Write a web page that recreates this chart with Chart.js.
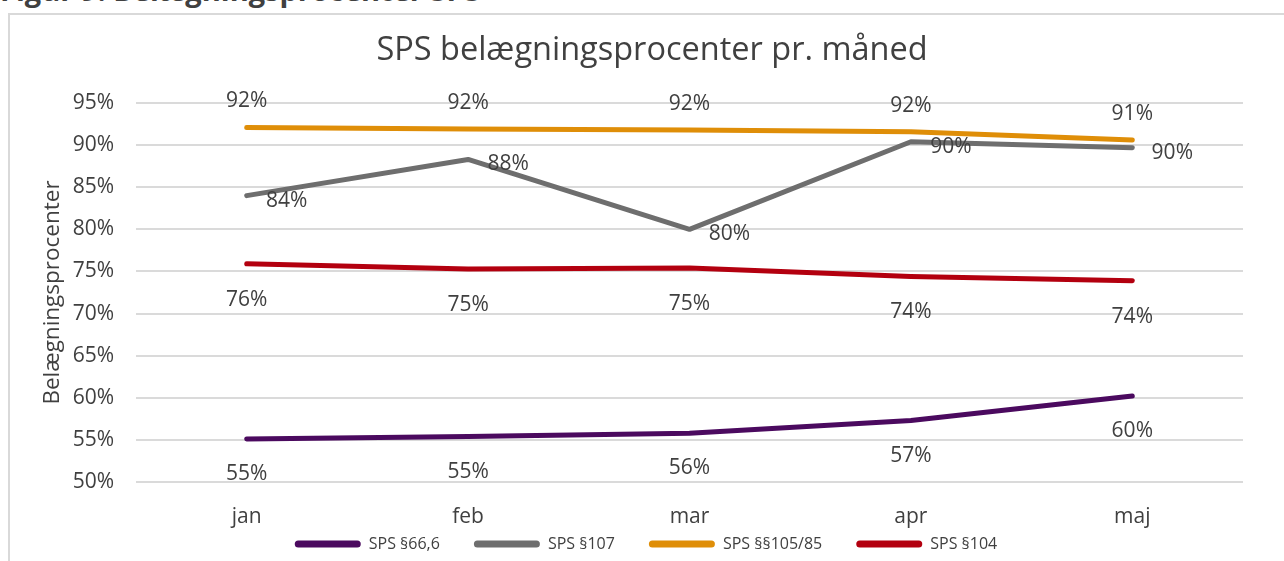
<!DOCTYPE html>
<html>
<head>
<meta charset="utf-8">
<script src="https://cdn.jsdelivr.net/npm/chart.js@4/dist/chart.umd.min.js"></script>
<style>
  html, body { margin: 0; padding: 0; background: #fff; width: 1284px; height: 561px; overflow: hidden; }
  #fig { position: absolute; left: 0; top: -30px; font-family: "Open Sans", sans-serif; font-weight: bold; font-size: 29px; line-height: 40px; color: #404040; white-space: nowrap; }
  #frame { position: absolute; left: 8px; top: 13px; width: 1300px; height: 560px; border: 2px solid #d9d9d9; box-sizing: border-box; }
  #wrap { position: absolute; left: 10px; top: 15px; width: 1284px; height: 546px; }
</style>
</head>
<body>
<div id="fig">Figur 9: Belægningsprocenter SPS</div>
<div id="frame"></div>
<div id="wrap"><canvas id="c"></canvas></div>
<script>
const categories = ["jan", "feb", "mar", "apr", "maj"];
const seriesNames = ["SPS §66,6", "SPS §107", "SPS §§105/85", "SPS §104"];
const sps666 = [55.1, 55.4, 55.8, 57.3, 60.2];
const sps107 = [84.0, 88.3, 80.0, 90.4, 89.7];
const sps10585 = [92.1, 91.9, 91.8, 91.6, 90.6];
const sps104 = [75.9, 75.3, 75.4, 74.4, 73.9];
const yTicks = [50, 55, 60, 65, 70, 75, 80, 85, 90, 95];

const colors = ["#4B0A5F", "#6E6E6E", "#DF8E08", "#B3000F"];
const labelOffsets = [[0, 35], [40, 5], [0, -26], [0, 36]];

const textColor = "#404040";
const baseFont = "'Open Sans', sans-serif";

const LEGEND_PAD = 34;
const LEGEND_FONT = 16;

const labelPlugin = {
  id: "pointLabels",
  afterDatasetsDraw(chart) {
    const ctx = chart.ctx;
    ctx.save();
    ctx.font = "21px " + baseFont;
    ctx.fillStyle = textColor;
    ctx.textAlign = "center";
    ctx.textBaseline = "middle";
    chart.data.datasets.forEach((ds, i) => {
      const meta = chart.getDatasetMeta(i);
      meta.data.forEach((pt, j) => {
        const off = labelOffsets[i];
        ctx.fillText(Math.round(ds.data[j]) + "%", pt.x + off[0], pt.y + off[1]);
      });
    });
    ctx.restore();
  }
};

// Compact legend: keep wide horizontal spacing but small reserved height
const legendTweak = {
  id: "legendTweak",
  beforeLayout(chart) {
    const lg = chart.legend;
    if (!lg || lg._compactPatched) return;
    const origFit = lg.fit.bind(lg);
    lg.fit = function () { origFit(); this.height = 31; };
    lg._compactPatched = true;
  },
  afterLayout(chart) {
    const lg = chart.legend;
    if (lg) {
      const targetCenter = 529;
      const top = targetCenter - LEGEND_PAD - LEGEND_FONT / 2;
      lg.top = top;
      lg.bottom = chart.height;
      lg.height = lg.bottom - lg.top;
      lg.left -= 6; lg.right -= 6;
    }
    const xs = chart.scales.x;
    if (xs) { xs.bottom = chart.height; xs.height = xs.bottom - xs.top; }
  }
};

const dataSets = [sps666, sps107, sps10585, sps104].map((arr, i) => ({
  label: seriesNames[i],
  data: arr,
  borderColor: colors[i],
  backgroundColor: colors[i],
  borderWidth: 5,
  borderCapStyle: "round",
  borderJoinStyle: "round",
  pointRadius: 0,
  pointHoverRadius: 0,
  tension: 0,
  fill: false,
  yAxisID: "y"
}));

new Chart(document.getElementById("c"), {
  type: "line",
  data: { labels: categories, datasets: dataSets },
  options: {
    responsive: true,
    maintainAspectRatio: false,
    animation: false,
    events: [],
    layout: { padding: { left: 0, right: 0, top: 0, bottom: 0 } },
    plugins: {
      title: {
        display: true,
        text: "SPS belægningsprocenter pr. måned",
        color: textColor,
        font: { family: baseFont, size: 32.5, weight: "normal" },
        padding: { top: 16, bottom: 33 }
      },
      legend: {
        display: true,
        position: "bottom",
        labels: {
          color: textColor,
          font: { family: baseFont, size: LEGEND_FONT },
          boxWidth: 66,
          boxHeight: 7,
          padding: LEGEND_PAD,
          generateLabels(chart) {
            return chart.data.datasets.map((ds, i) => ({
              text: ds.label,
              fillStyle: ds.borderColor,
              strokeStyle: ds.borderColor,
              lineWidth: 0,
              borderRadius: 3.5,
              fontColor: textColor,
              datasetIndex: i,
              hidden: false
            }));
          }
        }
      },
      tooltip: { enabled: false }
    },
    scales: {
      x: {
        offset: true,
        afterFit(scale) { scale.height = 48; },
        grid: { display: false },
        border: { display: false },
        ticks: { color: textColor, font: { family: baseFont, size: 21 }, padding: 14 }
      },
      y: {
        min: 50,
        max: 95,
        afterFit(scale) { scale.width = 126; },
        afterBuildTicks(scale) { scale.ticks = yTicks.map(v => ({ value: v })); },
        grid: { color: "#DADADA", lineWidth: 2, drawTicks: false },
        border: { display: false },
        title: {
          display: true,
          text: "Belægningsprocenter",
          color: textColor,
          font: { family: baseFont, size: 22.5 },
          padding: { top: 29, bottom: 6 }
        },
        ticks: {
          color: textColor,
          font: { family: baseFont, size: 21 },
          padding: 22,
          callback: v => v + "%"
        }
      },
      yRight: {
        position: "right",
        min: 50,
        max: 95,
        afterFit(scale) { scale.width = 51; },
        grid: { display: false, drawTicks: false },
        border: { display: false },
        ticks: { display: false }
      }
    }
  },
  plugins: [labelPlugin, legendTweak]
});
</script>
</body>
</html>
